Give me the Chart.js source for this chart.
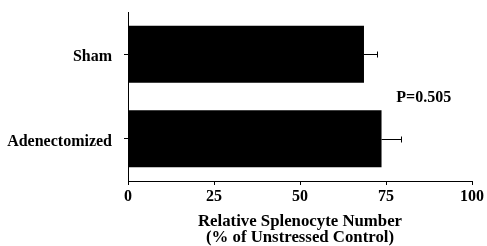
<!DOCTYPE html>
<html>
<head>
<meta charset="utf-8">
<script src="https://cdn.jsdelivr.net/npm/chart.js@4"></script>
<style>
  html, body { margin: 0; padding: 0; background: #fff; }
  #wrap { width: 487px; height: 246px; }
</style>
</head>
<body>
<div id="wrap"><canvas id="chart"></canvas></div>
<script>
// data
const groups = ['Sham', 'Adenectomized'];
const means = [68.6, 73.7];
const errors = [3.9, 5.7];   // upper SEM only
const xTicks = [0, 25, 50, 75, 100];
const pLabel = 'P=0.505';

const serif = '"Liberation Serif", "Times New Roman", serif';

// draws the one-sided error bars and the P value
const extras = {
    id: 'extras',
    afterDatasetsDraw(chart) {
        const ctx = chart.ctx;
        const xs = chart.scales.x;
        const ys = chart.scales.y;
        ctx.save();
        ctx.strokeStyle = '#000';
        ctx.lineWidth = 1;
        means.forEach((m, i) => {
            const x0 = xs.getPixelForValue(m);
            const x1 = xs.getPixelForValue(m + errors[i]);
            const y = Math.round(ys.getPixelForValue(i)) + 0.5;
            ctx.beginPath();
            ctx.moveTo(x0, y);
            ctx.lineTo(x1, y);
            ctx.moveTo(Math.round(x1) + 0.5, y - 3);
            ctx.lineTo(Math.round(x1) + 0.5, y + 3);
            ctx.stroke();
        });
        ctx.fillStyle = '#000';
        ctx.font = 'bold 16px ' + serif;
        ctx.textAlign = 'left';
        ctx.textBaseline = 'middle';
        const py = (ys.getPixelForValue(0) + ys.getPixelForValue(1)) / 2 + 1;
        ctx.fillText(pLabel, xs.getPixelForValue(78), py);
        ctx.restore();
    }
};

new Chart(document.getElementById('chart'), {
    type: 'bar',
    data: {
        labels: groups,
        datasets: [{
            data: means,
            backgroundColor: '#000',
            borderWidth: 0,
            categoryPercentage: 1,
            barPercentage: 0.675
        }]
    },
    options: {
        indexAxis: 'y',
        responsive: true,
        maintainAspectRatio: false,
        animation: false,
        layout: { padding: { top: 12, right: 15, left: 0, bottom: 0 } },
        plugins: { legend: { display: false }, tooltip: { enabled: false } },
        scales: {
            x: {
                min: 0,
                max: 100,
                afterFit: s => { s.height = 65; s.paddingLeft = 0; s.paddingRight = 0; },
                afterBuildTicks: s => { s.ticks = xTicks.map(v => ({ value: v })); },
                grid: { drawOnChartArea: false, tickLength: 4, color: '#000' },
                border: { color: '#000', width: 1 },
                ticks: {
                    color: '#000',
                    padding: 2,
                    maxRotation: 0,
                    font: { family: serif, size: 16, weight: 'bold' }
                },
                title: {
                    display: true,
                    text: ['Relative Splenocyte Number', '(% of Unstressed Control)'],
                    color: '#000',
                    padding: { top: 0, bottom: 0 },
                    font: { family: serif, size: 16.8, weight: 'bold', lineHeight: 0.96 }
                }
            },
            y: {
                afterFit: s => { s.width = 128; s.paddingTop = 0; s.paddingBottom = 0; },
                grid: { drawOnChartArea: false, offset: false, tickLength: 4, color: '#000' },
                border: { color: '#000', width: 1 },
                ticks: {
                    color: '#000',
                    padding: 12,
                    labelOffset: 3,
                    font: { family: serif, size: 16, weight: 'bold' }
                }
            }
        }
    },
    plugins: [extras]
});
</script>
</body>
</html>
